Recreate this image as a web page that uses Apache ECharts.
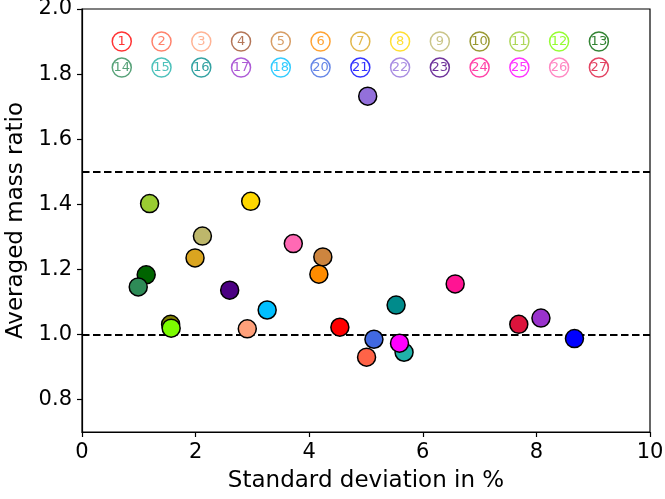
<!DOCTYPE html>
<html>
<head>
<meta charset="utf-8">
<script src="https://cdn.jsdelivr.net/npm/echarts@6/dist/echarts.min.js"></script>
<style>
  html, body { margin: 0; padding: 0; background: #fff; }
  #main { width: 665px; height: 499px; }
</style>
</head>
<body>
<div id="main"></div>
<script>
// sample numbers and their colours (19 has no colour key and no point)
var sampleIds = [1, 2, 3, 4, 5, 6, 7, 8, 9, 10, 11, 12, 13,
                 14, 15, 16, 17, 18, 20, 21, 22, 23, 24, 25, 26, 27];
var sampleColors = ['#ff0000', '#ff6347', '#ffa07a', '#a0522d', '#cd853f', '#ff8c00', '#daa520',
                    '#ffd700', '#bdb76b', '#808000', '#9acd32', '#7cfc00', '#006400',
                    '#2e8b57', '#20b2aa', '#008b8b', '#9932cc', '#00bfff', '#4169e1',
                    '#0000ff', '#9370db', '#4b0082', '#ff1493', '#ff00ff', '#ff69b4', '#dc143c'];

// measured points (sample 4 is not visible in the picture)
var pointIds  = [1, 2, 3, 5, 6, 7, 8, 9, 10, 11, 12, 13, 14, 15, 16, 17, 18, 20, 21, 22, 23, 24, 25, 26, 27];
var stdDev    = [4.54, 5.01, 2.91, 4.24, 4.17, 1.99, 2.97, 2.12, 1.56, 1.19, 1.57, 1.13, 0.99,
                 5.67, 5.53, 8.08, 3.26, 5.14, 8.67, 5.03, 2.60, 6.57, 5.59, 3.72, 7.69];
var massRatio = [1.022, 0.930, 1.017, 1.238, 1.185, 1.235, 1.409, 1.302, 1.031, 1.402, 1.019, 1.183, 1.146,
                 0.945, 1.090, 1.050, 1.075, 0.985, 0.987, 1.732, 1.136, 1.155, 0.973, 1.279, 1.031];

var refLines = [1.0, 1.5];
var xTicks = [0, 2, 4, 6, 8, 10];
var yTicks = [0.8, 1.0, 1.2, 1.4, 1.6, 1.8, 2.0];

function colorOf(id) {
  return sampleColors[sampleIds.indexOf(id)];
}

// colour key: two rows of circled numbers inside the plot
var keyData = sampleIds.map(function (id, i) {
  var row = i < 13 ? 0 : 1;
  var col = i % 13;
  return {
    value: [0.7 * (col + 1), row === 0 ? 1.9 : 1.82],
    name: String(id),
    itemStyle: { color: '#fff', borderColor: colorOf(id), borderWidth: 1.5 },
    label: { color: colorOf(id) }
  };
});

var pointData = pointIds.map(function (id, i) {
  return {
    value: [stdDev[i], massRatio[i]],
    name: String(id),
    itemStyle: { color: colorOf(id) }
  };
});

var fontFam = 'DejaVu Sans';

var option = {
  backgroundColor: '#fff',
  animation: false,
  textStyle: { fontFamily: fontFam },
  grid: {
    left: 82, right: 15, top: 9, bottom: 67,
    outerBoundsMode: 'none',
    containLabel: false,
    show: true, borderColor: '#000', borderWidth: 1.2, backgroundColor: 'transparent'
  },
  xAxis: {
    type: 'value', min: 0, max: 10, interval: 2,
    name: 'Standard deviation in %',
    nameLocation: 'middle', nameGap: 38,
    nameTextStyle: { fontSize: 23, color: '#000', fontFamily: fontFam },
    axisLine: { show: true, lineStyle: { color: '#000', width: 1.2 } },
    axisTick: { show: true, length: 5, lineStyle: { color: '#000', width: 1.2 }, customValues: xTicks },
    axisLabel: { fontSize: 21, color: '#000', margin: 10, customValues: xTicks },
    splitLine: { show: false }
  },
  yAxis: {
    type: 'value', min: 0.7, max: 2.0,
    name: 'Averaged mass ratio',
    nameLocation: 'middle', nameGap: 50,
    nameTextStyle: { fontSize: 23, color: '#000', fontFamily: fontFam },
    axisLine: { show: true, lineStyle: { color: '#000', width: 1.2 } },
    axisTick: { show: true, length: 5, lineStyle: { color: '#000', width: 1.2 }, customValues: yTicks },
    axisLabel: {
      fontSize: 21, color: '#000', margin: 10, customValues: yTicks,
      formatter: function (v) { return v.toFixed(1); }
    },
    splitLine: { show: false }
  },
  series: [
    {
      type: 'scatter',
      data: pointData,
      symbol: 'circle',
      symbolSize: 18,
      itemStyle: { borderColor: '#000', borderWidth: 1.5, opacity: 1 },
      z: 3,
      markLine: {
        silent: true,
        symbol: ['none', 'none'],
        label: { show: false },
        lineStyle: { color: '#000', width: 2, type: [7.5, 3.5] },
        data: refLines.map(function (v) { return { yAxis: v }; }),
        z: 2
      }
    },
    {
      type: 'scatter',
      data: keyData,
      symbol: 'circle',
      symbolSize: 19,
      z: 4,
      label: {
        show: true, position: 'inside', fontSize: 13, fontFamily: fontFam,
        formatter: function (p) { return p.name; }
      }
    }
  ]
};

var myChart = echarts.init(document.getElementById('main'));
myChart.setOption(option);
</script>
</body>
</html>
